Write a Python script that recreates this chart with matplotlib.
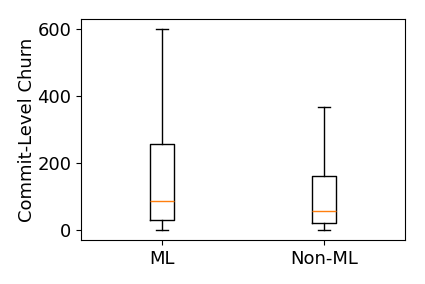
import matplotlib
matplotlib.use("Agg")
import matplotlib.pyplot as plt

categories = ["ML", "Non-ML"]
whislo = [0, 0]
q1 = [30, 22]
med = [87, 58]
q3 = [258, 161]
whishi = [600, 368]

stats = []
for i, c in enumerate(categories):
    stats.append(dict(label=c, whislo=whislo[i], q1=q1[i], med=med[i],
                      q3=q3[i], whishi=whishi[i], fliers=[]))

fig = plt.figure(figsize=(4.25, 2.84), dpi=100)
ax = fig.add_axes([81/425, 1-240/284, (405-81)/425, (240-19)/284])
ax.bxp(stats, positions=[1, 2], widths=0.15, showfliers=False)
ax.set_ylabel("Commit-Level Churn", fontsize=13, labelpad=1)
ax.tick_params(labelsize=13)
ax.set_yticks([0, 200, 400, 600])
fig.savefig("out.png", dpi=100)
